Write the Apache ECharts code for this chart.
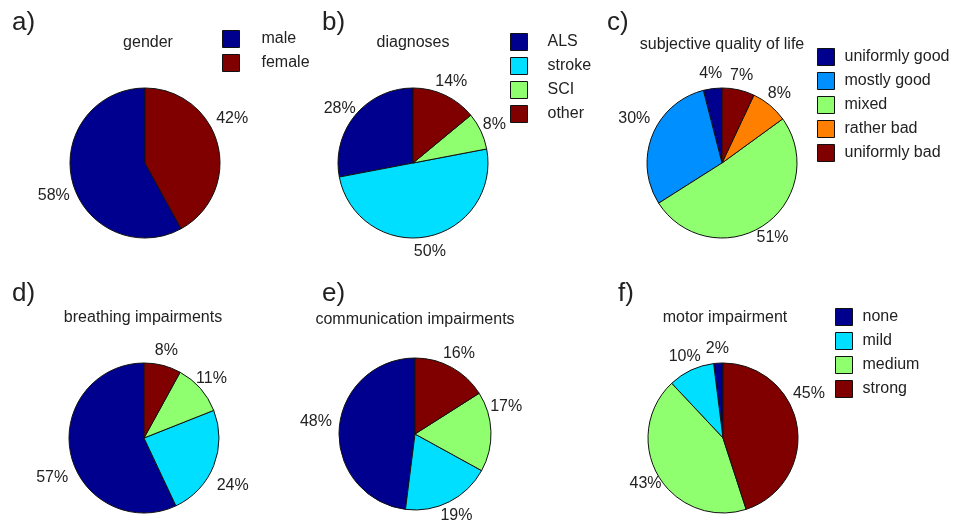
<!DOCTYPE html>
<html>
<head>
<meta charset="utf-8">
<script src="https://cdn.jsdelivr.net/npm/echarts@6/dist/echarts.min.js"></script>
<style>
  html, body { margin: 0; padding: 0; background: #fff; }
  #main { width: 954px; height: 522px; }
</style>
</head>
<body>
<div id="main"></div>
<script>
// data (percent of participants)
var genderNames = ['male', 'female'];
var genderValues = [58, 42];

var diagnosisNames = ['ALS', 'stroke', 'SCI', 'other'];
var diagnosisValues = [28, 50, 8, 14];

var qualityNames = ['uniformly good', 'mostly good', 'mixed', 'rather bad', 'uniformly bad'];
var qualityValues = [4, 30, 51, 8, 7];

var impairmentNames = ['none', 'mild', 'medium', 'strong'];
var breathingValues = [57, 24, 11, 8];
var communicationValues = [48, 19, 17, 16];
var motorValues = [2, 10, 43, 45];

// jet-like colours
var navy = '#00008f', cyan = '#00dfff', green = '#8fff70', darkred = '#800000';
var skyblue = '#008fff', orange = '#ff8000';

var font = "'Liberation Sans', Arial, sans-serif";
var textColor = '#222';

// shift: hand-made nudges of some percent labels (px), like in the original figure
var panels = [
    { letter: 'a)', title: 'gender', names: genderNames, values: genderValues,
      colors: [navy, darkred], center: [145, 163], r: 75,
      shift: [[-4, 10], [0, -22]],
      lx: 12, ly: 23, tx: 148, ty: 43, legend: [222, 30], legendGap: 17 },
    { letter: 'b)', title: 'diagnoses', names: diagnosisNames, values: diagnosisValues,
      colors: [navy, cyan, green, darkred], center: [413, 163], r: 75,
      shift: [[-4, 3], [0, 0], [0, 0], [0, 0]],
      lx: 322, ly: 23, tx: 413, ty: 43, legend: [510, 33], legendGap: 15 },
    { letter: 'c)', title: 'subjective quality of life', names: qualityNames, values: qualityValues,
      colors: [navy, skyblue, green, orange, darkred], center: [722, 163], r: 75,
      shift: [[0, 0], [-4, -11], [0, 0], [0, 0], [0, 0]],
      lx: 607, ly: 23, tx: 722, ty: 45, legend: [817, 48], legendGap: 5 },
    { letter: 'd)', title: 'breathing impairments', names: impairmentNames, values: breathingValues,
      colors: [navy, cyan, green, darkred], center: [144, 438], r: 75,
      shift: [[-4, 20], [5, 14], [0, 0], [0, 0]],
      lx: 12, ly: 294, tx: 143, ty: 318, legend: null },
    { letter: 'e)', title: 'communication impairments', names: impairmentNames, values: communicationValues,
      colors: [navy, cyan, green, darkred], center: [415, 434], r: 76,
      shift: [[-8, -7], [0, 0], [0, -25], [0, 0]],
      lx: 322, ly: 294, tx: 415, ty: 320, legend: null },
    { letter: 'f)', title: 'motor impairment', names: impairmentNames, values: motorValues,
      colors: [navy, cyan, green, darkred], center: [723, 438], r: 75,
      shift: [[0, 0], [0, 0], [0, 0], [-3, -30]],
      lx: 618, ly: 294, tx: 725, ty: 318, legend: [835, 308], legendGap: 5 }
];

var myChart = echarts.init(document.getElementById('main'));

var series = [], legends = [], graphics = [];

panels.forEach(function(p) {
    var total = p.values.reduce(function(s, v) { return s + v; }, 0);

    series.push({
        type: 'pie',
        center: p.center,
        radius: p.r,
        startAngle: 90,
        clockwise: false,
        avoidLabelOverlap: false,
        animation: false,
        itemStyle: { borderColor: '#111', borderWidth: 1 },
        label: {
            show: true,
            position: 'outside',
            formatter: '{c}%',
            fontFamily: font,
            fontSize: 16,
            color: textColor
        },
        labelLine: { show: false, length: 6, length2: 0 },
        // put the text centre at 1.2 radius on the middle of its slice
        labelLayout: function(params) {
            var before = 0;
            for (var i = 0; i < params.dataIndex; i++) before += p.values[i];
            var mid = (before + p.values[params.dataIndex] / 2) / total;
            var a = Math.PI / 2 + mid * 2 * Math.PI;
            var s = p.shift[params.dataIndex];
            return {
                x: p.center[0] + 1.2 * p.r * Math.cos(a) + s[0],
                y: p.center[1] - 1.2 * p.r * Math.sin(a) + s[1],
                align: 'center',
                verticalAlign: 'middle'
            };
        },
        emphasis: { disabled: true },
        data: p.names.map(function(name, i) {
            return { name: name, value: p.values[i], itemStyle: { color: p.colors[i] } };
        })
    });

    if (p.legend) {
        legends.push({
            data: p.names,
            orient: 'vertical',
            left: p.legend[0],
            top: p.legend[1],
            padding: 0,
            icon: 'rect',
            itemWidth: 17,
            itemHeight: 17,
            itemGap: 6,
            selectedMode: false,
            itemStyle: { borderColor: '#111', borderWidth: 1 },
            textStyle: { fontFamily: font, fontSize: 16, color: textColor, lineHeight: 17, padding: [0, 0, 0, p.legendGap] }
        });
    }

    graphics.push({
        type: 'text', x: p.lx, y: p.ly,
        style: { text: p.letter, font: '26px ' + font, fill: textColor, textVerticalAlign: 'middle' }
    });
    graphics.push({
        type: 'text', x: p.tx, y: p.ty,
        style: { text: p.title, font: '16px ' + font, fill: textColor, textAlign: 'center', textVerticalAlign: 'middle' }
    });
});

var option = {
    backgroundColor: '#fff',
    legend: legends,
    series: series,
    graphic: graphics
};

myChart.setOption(option);
</script>
</body>
</html>
